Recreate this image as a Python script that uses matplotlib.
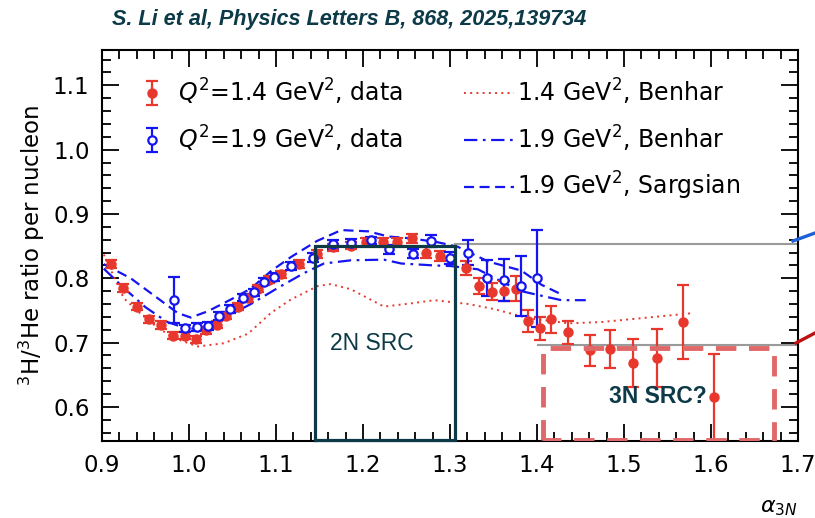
import matplotlib
matplotlib.use("Agg")
import matplotlib.pyplot as plt
from matplotlib.lines import Line2D

# Q^2 = 1.4 GeV^2 data
a14 = [0.910, 0.924, 0.940, 0.954, 0.968, 0.982, 0.995, 1.008, 1.020, 1.032,
       1.043, 1.056, 1.068, 1.079, 1.092, 1.106, 1.126, 1.147, 1.166, 1.186,
       1.203, 1.223, 1.239, 1.256, 1.272, 1.289, 1.318, 1.333, 1.348, 1.362,
       1.376, 1.390, 1.403, 1.416, 1.436, 1.461, 1.484, 1.510, 1.538, 1.568,
       1.603]
r14 = [0.822, 0.785, 0.756, 0.736, 0.727, 0.711, 0.711, 0.705, 0.719, 0.728,
       0.742, 0.756, 0.769, 0.784, 0.798, 0.806, 0.822, 0.838, 0.848, 0.851,
       0.857, 0.857, 0.857, 0.862, 0.840, 0.835, 0.816, 0.788, 0.779, 0.780,
       0.784, 0.733, 0.722, 0.736, 0.716, 0.688, 0.690, 0.668, 0.676, 0.732,
       0.615]
e14 = [0.006, 0.006, 0.006, 0.006, 0.006, 0.006, 0.006, 0.006, 0.006, 0.006,
       0.006, 0.006, 0.006, 0.006, 0.006, 0.006, 0.006, 0.006, 0.006, 0.006,
       0.006, 0.006, 0.006, 0.007, 0.008, 0.008, 0.011, 0.013, 0.013, 0.016,
       0.020, 0.017, 0.018, 0.021, 0.018, 0.024, 0.030, 0.037, 0.045, 0.058,
       0.068]

# Q^2 = 1.9 GeV^2 data
a19 = [0.983, 0.995, 1.009, 1.022, 1.034, 1.047, 1.062, 1.075, 1.086, 1.098,
       1.117, 1.142, 1.166, 1.186, 1.209, 1.230, 1.257, 1.278, 1.300, 1.321,
       1.343, 1.362, 1.382, 1.400]
r19 = [0.766, 0.722, 0.724, 0.726, 0.741, 0.752, 0.770, 0.778, 0.795, 0.802,
       0.819, 0.832, 0.853, 0.855, 0.859, 0.845, 0.838, 0.858, 0.832, 0.840,
       0.801, 0.797, 0.788, 0.800]
e19 = [0.036, 0.006, 0.006, 0.006, 0.006, 0.006, 0.006, 0.006, 0.006, 0.006,
       0.006, 0.007, 0.007, 0.006, 0.006, 0.007, 0.007, 0.009, 0.009, 0.019,
       0.028, 0.033, 0.047, 0.075]

# Theory curves
ab14 = [0.902, 0.925, 0.945, 0.964, 0.983, 1.010, 1.040, 1.068, 1.094, 1.117,
        1.148, 1.163, 1.186, 1.224, 1.255, 1.282, 1.321, 1.351, 1.390, 1.436,
        1.474, 1.520, 1.580]
rb14 = [0.837, 0.769, 0.744, 0.723, 0.707, 0.694, 0.699, 0.714, 0.746, 0.767,
        0.788, 0.791, 0.783, 0.756, 0.761, 0.766, 0.760, 0.752, 0.738, 0.730,
        0.732, 0.738, 0.746]

ab19 = [0.902, 0.925, 0.950, 0.975, 1.000, 1.020, 1.040, 1.071, 1.102, 1.132,
        1.155, 1.186, 1.224, 1.244, 1.282, 1.301, 1.332, 1.359, 1.382, 1.408,
        1.428, 1.456]
rb19 = [0.815, 0.785, 0.755, 0.732, 0.721, 0.725, 0.738, 0.760, 0.785, 0.808,
        0.823, 0.828, 0.829, 0.823, 0.820, 0.819, 0.814, 0.795, 0.780, 0.772,
        0.766, 0.766]

as19 = [0.902, 0.933, 0.964, 0.987, 1.002, 1.022, 1.048, 1.071, 1.094, 1.117,
        1.147, 1.175, 1.206, 1.229, 1.256, 1.286, 1.309, 1.344, 1.382, 1.405,
        1.428]
rs19 = [0.822, 0.800, 0.769, 0.746, 0.739, 0.749, 0.767, 0.784, 0.811, 0.833,
        0.858, 0.875, 0.873, 0.865, 0.862, 0.856, 0.849, 0.826, 0.812, 0.790,
        0.775]

xticks = [0.9, 1.0, 1.1, 1.2, 1.3, 1.4, 1.5, 1.6, 1.7]
yticks = [0.6, 0.7, 0.8, 0.9, 1.0, 1.1]

RED = "#e8372c"
BLUE = "#1515f0"
TEAL = "#0c3a47"
SALMON = "#e06868"

fig = plt.figure(figsize=(8.15, 5.18), dpi=100)
ax = fig.add_axes([0.1252, 0.1486, 0.8540, 0.7549])

# theory curves
l1, = ax.plot(ab14, rb14, ls=(0, (1, 2.2)), color=RED, lw=1.4,
              label="1.4 GeV$^2$, Benhar")
l2, = ax.plot(ab19, rb19, ls=(0, (6, 2.5, 1.2, 2.5)), color=BLUE, lw=1.6,
              label="1.9 GeV$^2$, Benhar")
l3, = ax.plot(as19, rs19, ls=(0, (4.5, 2.5)), color=BLUE, lw=1.6,
              label="1.9 GeV$^2$, Sargsian")

# data
d1 = ax.errorbar(a14, r14, yerr=e14, fmt="o", color=RED, ms=6.5, lw=1.6,
                 capsize=4, capthick=1.6, label="$Q^2$=1.4 GeV$^2$, data")
d2 = ax.errorbar(a19, r19, yerr=e19, fmt="o", color=BLUE, mfc="white",
                 mec=BLUE, mew=1.6, ms=6, lw=1.6, capsize=4, capthick=1.6,
                 label="$Q^2$=1.9 GeV$^2$, data")

ax.set_xlim(0.9, 1.7)
ax.set_ylim(0.547, 1.155)
ax.set_xticks(xticks)
ax.set_yticks(yticks)
ax.set_xticklabels([f"{v:.1f}" for v in xticks])
ax.set_yticklabels([f"{v:.1f}" for v in yticks])
ax.minorticks_on()
ax.set_xticks([0.9 + 0.02 * i for i in range(41)], minor=True)
ax.set_yticks([0.56 + 0.02 * i for i in range(30)], minor=True)
ax.tick_params(which="both", direction="in", top=True, right=True,
               labelsize=16.5, width=1.3)
ax.tick_params(which="major", length=12, pad=9)
ax.tick_params(which="minor", length=6.5)
for s in ax.spines.values():
    s.set_linewidth(1.5)

ax.set_ylabel("$^3$H/$^3$He ratio per nucleon", fontsize=16.5, labelpad=4)
ax.text(1.0, -0.17, r"$\alpha_{3N}$", transform=ax.transAxes,
        fontsize=16, ha="right", va="center")

leg1 = ax.legend(handles=[d1, d2], loc="upper left", frameon=False,
                 fontsize=17, bbox_to_anchor=(0.035, 0.968),
                 handlelength=1.0, handletextpad=0.6, labelspacing=0.7,
                 borderaxespad=0.2)
ax.add_artist(leg1)
ax.legend(handles=[l1, l2, l3], loc="upper left", frameon=False, fontsize=17,
          bbox_to_anchor=(0.5, 0.968), handlelength=2.1, handletextpad=0.15,
          labelspacing=0.7, borderaxespad=0.2)

# highlighted regions
ax.plot([1.1448, 1.1448, 1.3057, 1.3057, 1.1448],
        [0.548, 0.851, 0.851, 0.548, 0.548],
        color=TEAL, lw=2.3, solid_joinstyle="miter", clip_on=False, zorder=5)
ax.text(1.2103, 0.699, "2N SRC", color=TEAL, fontsize=16.5,
        family="Liberation Sans", ha="center", va="center", zorder=6)

ax.plot([1.407, 1.407, 1.672, 1.672, 1.407], [0.549, 0.691, 0.691, 0.549, 0.549],
        color=SALMON, lw=3.5, ls=(0, (4.2, 2.6)), zorder=5)
ax.text(1.539, 0.617, "3N SRC?", color=TEAL, fontsize=16.5, weight="bold",
        family="Liberation Sans", ha="center", va="center", zorder=6)

ax.plot([1.3057, 1.7], [0.853, 0.853], color="#9a9a9a", lw=1.5, zorder=1)
ax.plot([1.401, 1.7], [0.697, 0.697], color="#9a9a9a", lw=1.5, zorder=1)

# pointers leaving the plot on the right
fig.add_artist(Line2D([793 / 815, 1.0], [1 - 241 / 518, 1 - 233 / 518],
                      color="#1f5fd8", lw=2.4))
fig.add_artist(Line2D([796 / 815, 1.0], [1 - 343 / 518, 1 - 333 / 518],
                      color="#c01010", lw=2.4))

fig.text(112 / 815, 1 - 19 / 518,
         "S. Li et al, Physics Letters B, 868, 2025,139734",
         family="Liberation Sans", style="italic", weight="bold",
         fontsize=15.6, color=TEAL, ha="left", va="center")

fig.savefig("out.png", dpi=100)
